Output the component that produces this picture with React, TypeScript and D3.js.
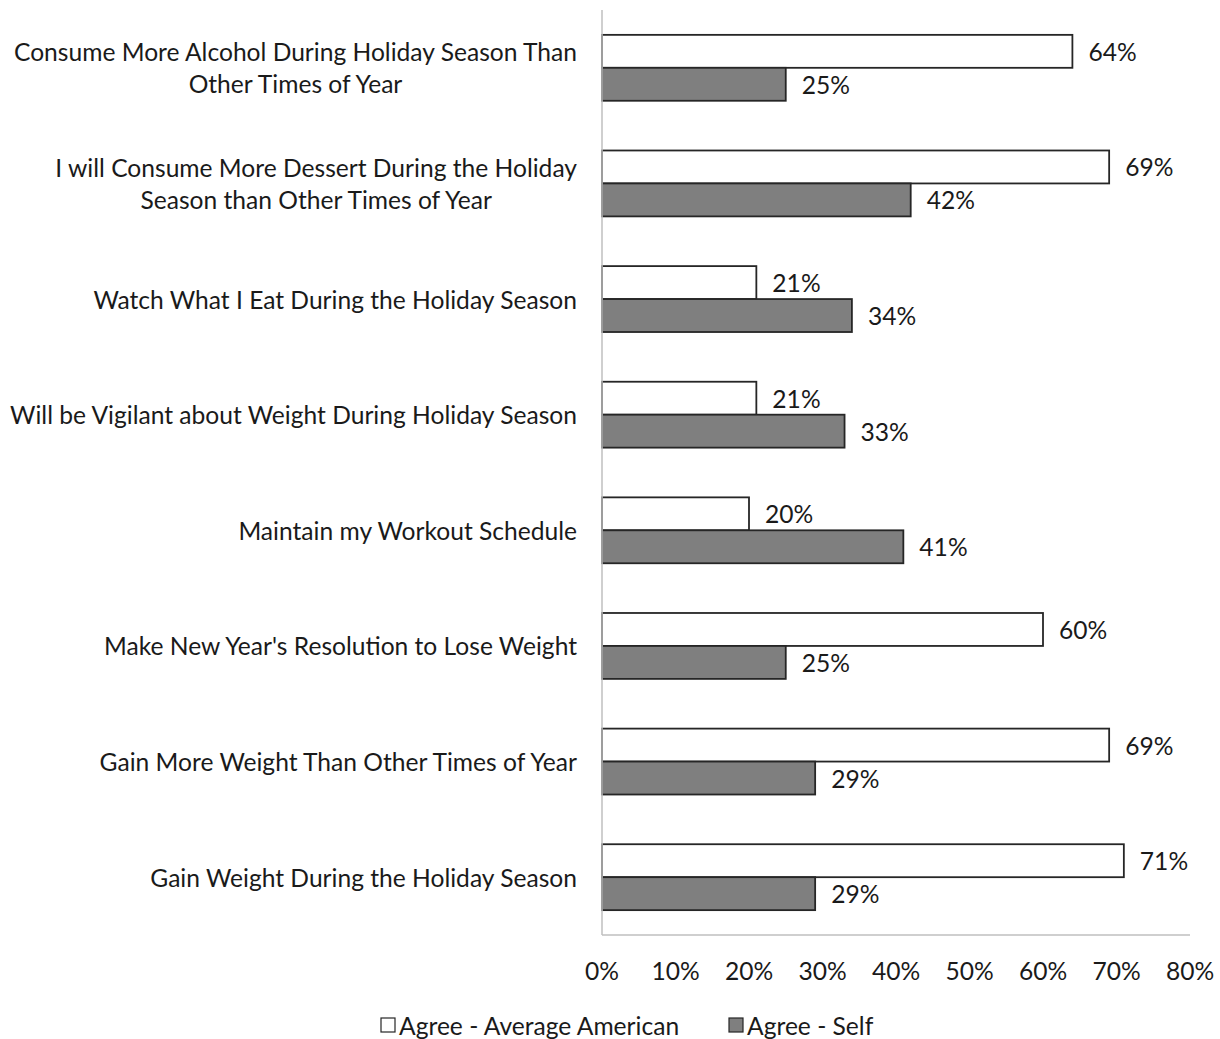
import React from "react";
import * as d3 from "d3";

const categories: string[][] = [
  ["Consume More Alcohol During Holiday Season Than", "Other Times of Year"],
  ["I will Consume More Dessert During the Holiday", "Season than Other Times of Year"],
  ["Watch What I Eat During the Holiday Season"],
  ["Will be Vigilant about Weight During Holiday Season"],
  ["Maintain my Workout Schedule"],
  ["Make New Year's Resolution to Lose Weight"],
  ["Gain More Weight Than Other Times of Year"],
  ["Gain Weight During the Holiday Season"],
];
const averageAmerican: number[] = [64, 69, 21, 21, 20, 60, 69, 71];
const self: number[] = [25, 42, 34, 33, 41, 25, 29, 29];
const xTicks: number[] = [0, 10, 20, 30, 40, 50, 60, 70, 80];
const seriesNames = ["Agree - Average American", "Agree - Self"];

const W = 1220;
const H = 1039;
const FONT = "Lato, 'Open Sans', sans-serif";

export default function App() {
  const left = 602, right = 1190, top = 10, bottom = 935;
  const x = d3.scaleLinear().domain([0, 80]).range([left, right]);
  const idx = categories.map((_, i) => String(i));
  const y = d3.scaleBand().domain(idx).range([top, bottom]).paddingInner(0.43).paddingOuter(0.215);
  const bw = y.bandwidth() / 2;
  const fs = 24.6;
  const labelRight = 577;
  return (
    <svg width={W} height={H} style={{ position: "absolute", left: 0, top: 0, background: "#fff" }} fontFamily={FONT}>
      <rect width={W} height={H} fill="#fff" />
      {categories.map((lines, i) => {
        const y0 = y(String(i))!;
        const cy = y0 + y.bandwidth() / 2;
        const a = averageAmerican[i];
        const s = self[i];
        return (
          <g key={i}>
            <rect x={x(0)} y={y0} width={x(a) - x(0)} height={bw} fill="#fff" stroke="#262626" strokeWidth={1.8} />
            <rect x={x(0)} y={y0 + bw} width={x(s) - x(0)} height={bw} fill="#7f7f7f" stroke="#262626" strokeWidth={1.8} />
            <text x={x(a) + 16} y={y0 + bw / 2} dominantBaseline="central" fontSize={fs} fill="#1a1a1a">{a}%</text>
            <text x={x(s) + 16} y={y0 + bw * 1.5} dominantBaseline="central" fontSize={fs} fill="#1a1a1a">{s}%</text>
            {lines.length === 1 ? (
              <text x={labelRight} y={cy} textAnchor="end" dominantBaseline="central" fontSize={fs} fill="#1a1a1a">{lines[0]}</text>
            ) : (
              <MultiLabel lines={lines} right={labelRight} cy={cy} fs={fs} />
            )}
          </g>
        );
      })}
      <line x1={left} x2={left} y1={top} y2={bottom} stroke="#bfbfbf" strokeWidth={1.5} />
      <line x1={left} x2={right} y1={bottom} y2={bottom} stroke="#bfbfbf" strokeWidth={1.5} />
      {xTicks.map((t) => (
        <text key={t} x={x(t)} y={970} textAnchor="middle" dominantBaseline="central" fontSize={fs} fill="#1a1a1a">{t}%</text>
      ))}
      <g>
        <rect x={381} y={1018} width={14} height={14} fill="#fff" stroke="#262626" strokeWidth={1.2} />
        <text x={399} y={1025} dominantBaseline="central" fontSize={fs} fill="#1a1a1a">{seriesNames[0]}</text>
        <rect x={729} y={1018} width={14} height={14} fill="#7f7f7f" stroke="#262626" strokeWidth={1.2} />
        <text x={747} y={1025} dominantBaseline="central" fontSize={fs} fill="#1a1a1a">{seriesNames[1]}</text>
      </g>
    </svg>
  );
}

function MultiLabel({ lines, right, cy, fs }: { lines: string[]; right: number; cy: number; fs: number }) {
  const ref = React.useRef<SVGGElement>(null);
  React.useEffect(() => {
    const g = ref.current;
    if (!g) return;
    const texts = Array.from(g.querySelectorAll("text")) as SVGTextElement[];
    const widths = texts.map((t) => t.getComputedTextLength());
    const maxW = Math.max(...widths);
    const center = right - maxW / 2;
    texts.forEach((t) => t.setAttribute("x", String(center)));
  }, [lines, right]);
  return (
    <g ref={ref}>
      {lines.map((l, k) => (
        <text key={k} x={right} y={cy + (k - (lines.length - 1) / 2) * 32} textAnchor="middle" dominantBaseline="central" fontSize={fs} fill="#1a1a1a">{l}</text>
      ))}
    </g>
  );
}
